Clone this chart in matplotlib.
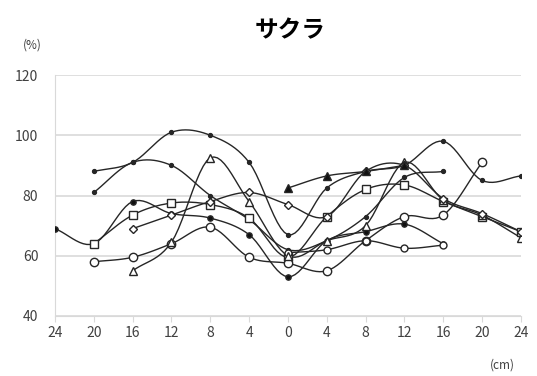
import numpy as np
import matplotlib.pyplot as plt

plt.rcParams['font.family'] = ['Noto Sans CJK JP', 'DejaVu Sans']

# positions from the left edge (cm)
tick_labels = ['24', '20', '16', '12', '8', '4', '0', '4', '8', '12', '16', '20', '24']
nan = np.nan

# one list per measured line (%), nan = no measurement
dot_a = [nan, 88, 91, 101, 100, 91, 67, 82.5, 88, 90, 98, 85, 86.5]
dot_b = [nan, 81, 91, 90, 80, 72, 62, 65, 73, 86, 88, nan, nan]
dot_c = [69, 64, 78, 74, 72.5, 67, 53, 65, 68, 70.5, 64, nan, nan]
square = [nan, 64, 73.5, 77.5, 77, 72.5, 59.5, 73, 82, 83.5, 78, 73, 68]
circle_a = [nan, 58, 59.5, 64, 69.5, 59.5, 57.5, 55, 65, 73, 73.5, 91, nan]
circle_b = [nan, nan, nan, nan, nan, nan, 61, 62, 65, 62.5, 63.5, nan, nan]
triangle = [nan, nan, 55, 64.5, 92.5, 78, 60, 65, 70, 91, 78.5, 73.5, 66]
diamond = [nan, nan, 69, 73.5, 78, 81, 77, 73, 88, 90, 79, 74, 68]
tri_fill = [nan, nan, nan, nan, nan, nan, 82.5, 86.5, 88, 90, nan, nan, nan]

x = np.arange(len(tick_labels))


# smoothed line like the spreadsheet's "smoothed line" option (drawing only)
def smooth_path(xs, ys, n=12):
    xs = np.asarray(xs, float)
    ys = np.asarray(ys, float)
    ok = ~np.isnan(ys)
    xs, ys = xs[ok], ys[ok]
    if len(xs) < 3:
        return xs, ys
    px = np.concatenate([[2 * xs[0] - xs[1]], xs, [2 * xs[-1] - xs[-2]]])
    py = np.concatenate([[2 * ys[0] - ys[1]], ys, [2 * ys[-1] - ys[-2]]])
    t = np.linspace(0, 1, n)[:, None]
    out_x, out_y = [], []
    for i in range(1, len(px) - 2):
        for p, out in ((px, out_x), (py, out_y)):
            p0, p1, p2, p3 = p[i - 1], p[i], p[i + 1], p[i + 2]
            seg = 0.5 * (2 * p1 + (-p0 + p2) * t + (2 * p0 - 5 * p1 + 4 * p2 - p3) * t ** 2
                         + (-p0 + 3 * p1 - 3 * p2 + p3) * t ** 3)
            out.append(seg.ravel())
    return np.concatenate(out_x), np.concatenate(out_y)


fig = plt.figure(figsize=(5.37, 3.76), dpi=100)
ax = fig.add_axes([0.1024, 0.1596, 0.8676, 0.6409])

series = [
    (dot_a, 'o', 2.8, '#262626'),
    (dot_b, 'o', 2.8, '#262626'),
    (dot_c, 'o', 3.8, '#111111'),
    (square, 's', 5.5, 'white'),
    (circle_a, 'o', 6, 'white'),
    (circle_b, 'o', 5, 'white'),
    (triangle, '^', 6, 'white'),
    (diamond, 'D', 4.2, 'white'),
    (tri_fill, '^', 5.5, '#111111'),
]
for ys, m, ms, fc in series:
    sx, sy = smooth_path(x, ys)
    ax.plot(sx, sy, color='#262626', lw=1.0, zorder=2)
    ax.plot(x, ys, ls='none', marker=m, ms=ms, mfc=fc, mec='#262626', mew=1.0, zorder=3)

ax.set_xlim(0, 12)
ax.set_ylim(40, 120)
ax.set_xticks(x)
ax.set_xticklabels(tick_labels)
ax.set_yticks([40, 60, 80, 100, 120])
ax.grid(axis='y', color='#d9d9d9', lw=1.2)
ax.set_axisbelow(True)
for s in ['top', 'right']:
    ax.spines[s].set_visible(False)
for s in ['left', 'bottom']:
    ax.spines[s].set_color('#d9d9d9')
ax.tick_params(axis='x', colors='#d9d9d9', labelcolor='#404040', labelsize=10, length=4)
ax.tick_params(axis='y', length=0, labelcolor='#404040', labelsize=10, pad=12)

fig.text(0.54, 0.92, 'サクラ', ha='center', va='center', fontsize=17, fontweight='bold')
fig.text(0.06, 0.88, '(%)', ha='center', va='center', fontsize=8.5, color='#404040')
fig.text(0.935, 0.03, '(cm)', ha='center', va='center', fontsize=8.5, color='#404040')

fig.savefig('out.png', dpi=100)
